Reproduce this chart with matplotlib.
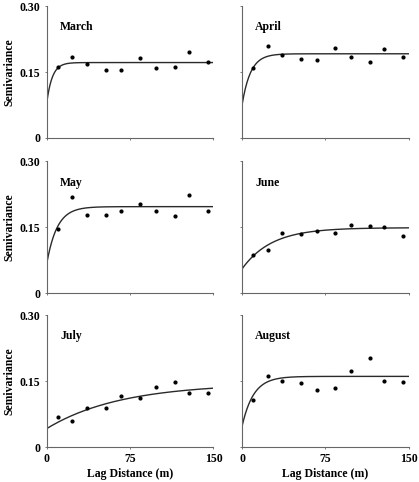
import numpy as np
import matplotlib.pyplot as plt

plt.rcParams['font.family'] = ['Liberation Serif', 'DejaVu Serif']
plt.rcParams['font.weight'] = 'bold'

# lag distances (m)
lags = [10, 23, 36, 53, 67, 84, 98, 115, 128, 145]

months = ["March", "April", "May", "June", "July", "August"]

# observed semivariance values
g_march = [0.161, 0.184, 0.168, 0.156, 0.155, 0.183, 0.159, 0.161, 0.197, 0.173]
g_april = [0.160, 0.209, 0.189, 0.181, 0.178, 0.206, 0.185, 0.173, 0.204, 0.184]
g_may = [0.145, 0.220, 0.177, 0.177, 0.188, 0.203, 0.188, 0.176, 0.224, 0.188]
g_june = [0.087, 0.099, 0.136, 0.135, 0.142, 0.136, 0.155, 0.152, 0.150, 0.130]
g_july = [0.068, 0.059, 0.088, 0.090, 0.117, 0.112, 0.137, 0.148, 0.122, 0.122]
g_august = [0.107, 0.163, 0.151, 0.147, 0.131, 0.135, 0.174, 0.203, 0.150, 0.149]
observed = [g_march, g_april, g_may, g_june, g_july, g_august]

# fitted exponential models: nugget, sill, range
nugget = [0.080, 0.075, 0.067, 0.055, 0.042, 0.047]
sill = [0.172, 0.192, 0.197, 0.149, 0.145, 0.161]
rng = [15, 23, 28, 80, 200, 31]

fig = plt.figure(figsize=(4.19, 4.82), dpi=100)

lefts = [0.1115, 0.5776]
width = 0.398
bottoms = [0.7137, 0.392, 0.0726]
height = 0.273

h = np.linspace(0, 150, 300)
for i in range(6):
    r, c = divmod(i, 2)
    ax = fig.add_axes([lefts[c], bottoms[r], width, height])
    model = nugget[i] + (sill[i] - nugget[i]) * (1 - np.exp(-3 * h / rng[i]))
    ax.plot(h, model, color='#2a2a2a', linewidth=1.0)
    ax.scatter(lags, observed[i], s=4, color='black', zorder=3)
    ax.set_xlim(0, 150)
    ax.set_ylim(0, 0.30)
    ax.set_xticks([0, 75, 150])
    ax.set_yticks([0, 0.15, 0.30])
    for s in ['top', 'right']:
        ax.spines[s].set_visible(False)
    for s in ['left', 'bottom']:
        ax.spines[s].set_color('#666666')
        ax.spines[s].set_linewidth(0.8)
    ax.tick_params(length=1.5, width=0.6, color='#666666', labelsize=8.5, pad=3)
    if c == 0:
        ax.set_yticklabels(['0', '0.15', '0.30'])
        ax.set_ylabel("Semivariance", fontsize=8.5, fontweight='bold', labelpad=3)
    else:
        ax.set_yticklabels([])
    if r == 2:
        ax.set_xticklabels(['0', '75', '150'])
        ax.set_xlabel("Lag Distance (m)", fontsize=8.5, fontweight='bold', labelpad=2)
    else:
        ax.set_xticklabels([])
    ax.text(0.08, 0.84, months[i], transform=ax.transAxes, fontsize=8.5,
            fontweight='bold', va='center', ha='left')

fig.savefig('out.png', dpi=100)
